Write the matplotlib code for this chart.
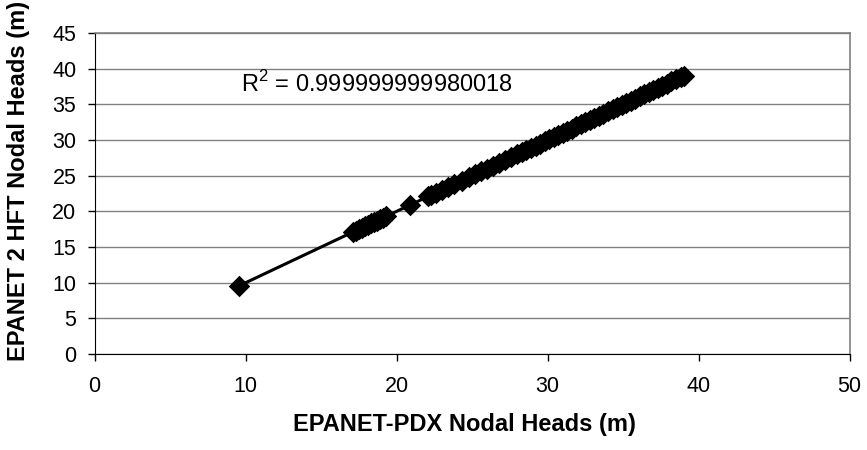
import matplotlib
matplotlib.use('Agg')
import matplotlib.pyplot as plt
import numpy as np

# nodal heads (m)
heads_pdx = [9.6, 17.1, 17.3, 17.5, 17.7, 17.9, 18.1, 18.3, 18.5, 18.7, 18.9, 19.1, 19.3,
             20.9, 22.1, 22.3, 22.6, 23.0, 23.4, 23.8, 24.3, 24.8, 25.2, 25.6, 26.0, 26.4,
             26.8, 27.2, 27.6, 28.0, 28.3, 28.6, 28.9, 29.2, 29.5, 29.8, 30.1, 30.4, 30.7,
             31.0, 31.3, 31.6, 31.9, 32.2, 32.5, 32.8, 33.1, 33.4, 33.7, 34.0, 34.3, 34.6,
             34.9, 35.2, 35.5, 35.8, 36.1, 36.4, 36.7, 37.0, 37.3, 37.6, 37.9, 38.2, 38.5,
             38.8, 39.0]
heads_hft = [9.5, 17.1, 17.3, 17.5, 17.7, 17.9, 18.1, 18.3, 18.5, 18.7, 18.9, 19.1, 19.3,
             20.9, 22.1, 22.3, 22.6, 23.0, 23.4, 23.8, 24.3, 24.8, 25.2, 25.6, 26.0, 26.4,
             26.8, 27.2, 27.6, 28.0, 28.3, 28.6, 28.9, 29.2, 29.5, 29.8, 30.1, 30.4, 30.7,
             31.0, 31.3, 31.6, 31.9, 32.2, 32.5, 32.8, 33.1, 33.4, 33.7, 34.0, 34.3, 34.6,
             34.9, 35.2, 35.5, 35.8, 36.1, 36.4, 36.7, 37.0, 37.3, 37.6, 37.9, 38.2, 38.5,
             38.8, 39.0]
r2_label = 'R$^2$ = 0.999999999980018'

plt.rcParams['font.family'] = ['Liberation Sans', 'DejaVu Sans']
plt.rcParams['mathtext.fontset'] = 'custom'
plt.rcParams['mathtext.rm'] = 'Liberation Sans'

fig = plt.figure(figsize=(8.67, 4.5), dpi=100)
ax = fig.add_axes([0.109, 0.2133, 0.871, 0.7134])

ax.scatter(heads_pdx, heads_hft, marker='D', s=120, color='black', zorder=3, linewidths=0)

# linear trendline, as excel draws it
k, b = np.polyfit(heads_pdx, heads_hft, 1)
xs = np.array([min(heads_pdx), max(heads_pdx)])
ax.plot(xs, k * xs + b, color='black', lw=2.2, zorder=4)

ax.text(9.7, 37.8, r2_label, fontsize=17, va='center', ha='left')

ax.set_xlim(0, 50)
ax.set_ylim(0, 45)
ax.set_xticks(range(0, 51, 10))
ax.set_yticks(range(0, 46, 5))
ax.tick_params(direction='out', length=5, width=1, labelsize=15.5, colors='black')
ax.tick_params(axis='x', pad=11)
ax.tick_params(axis='y', pad=8)
ax.grid(True, axis='y', color='#808080', lw=1)
ax.set_axisbelow(True)

for s in ['left', 'bottom']:
    ax.spines[s].set_color('black')
for s in ['top', 'right']:
    ax.spines[s].set_color('#808080')
    ax.spines[s].set_linewidth(1.2)

ax.set_xlabel('EPANET-PDX Nodal Heads (m)', fontsize=17, fontweight='bold')
ax.set_ylabel('EPANET 2 HFT Nodal Heads (m)', fontsize=17, fontweight='bold')
ax.xaxis.set_label_coords(0.49, -0.185)
ax.yaxis.set_label_coords(-0.085, 0.54)

fig.savefig('out.png', dpi=100)
